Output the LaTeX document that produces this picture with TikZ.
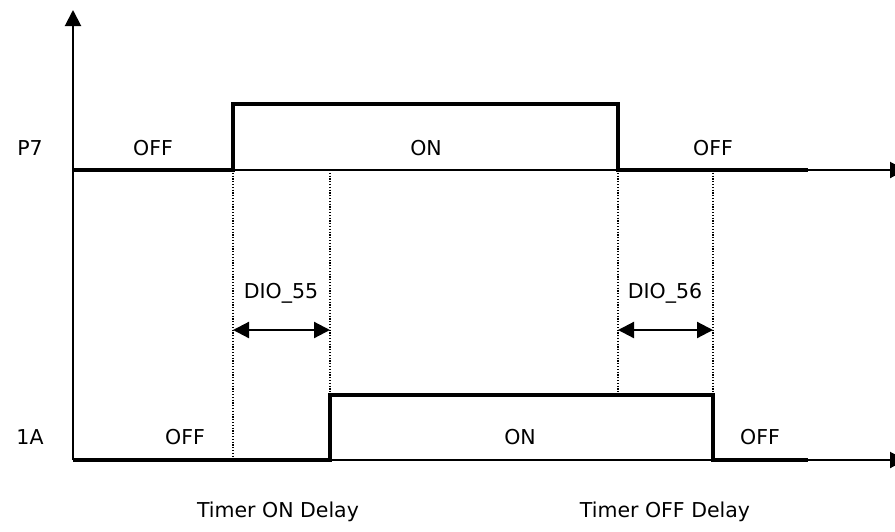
\documentclass[tikz,border=0pt]{standalone}
\usepackage{fontspec}
\setmainfont{DejaVu Sans}
\usetikzlibrary{arrows.meta}

\begin{document}
\begin{tikzpicture}[x=1pt, y=-1pt,
                    axis/.style={line width=2pt},
                    signal/.style={line width=3.6pt},
                    guide/.style={line width=1.2pt, dash pattern=on 1.2pt off 1.6pt},
                    span/.style={line width=2.2pt,
                      {Triangle[length=16pt,width=16pt]}-{Triangle[length=16pt,width=16pt]}},
                    lbl/.style={font=\fontsize{20.5}{24}\selectfont, inner sep=0pt}]
  \useasboundingbox (0,0) rectangle (895,531);

  % axes
  \coordinate (o) at (73,460);
  \coordinate (ytop) at (73,10);
  \coordinate (p7) at (73,170);
  \coordinate (p7end) at (906,170);
  \coordinate (aend) at (906,460);
  \draw[axis, -{Triangle[length=16pt,width=16pt]}] (o) -- (ytop);
  \draw[axis, -{Triangle[length=16pt,width=16pt]}] (p7) -- (p7end);
  \draw[axis, -{Triangle[length=16pt,width=16pt]}] (o) -- (aend);

  % P7 signal
  \coordinate (p7on) at (233,170);
  \coordinate (p7onhi) at (233,104);
  \coordinate (p7offhi) at (618,104);
  \coordinate (p7off) at (618,170);
  \coordinate (p7stop) at (808,170);
  \draw[signal] (p7) -- (p7on) -- (p7onhi) -- (p7offhi) -- (p7off) -- (p7stop);

  % 1A signal
  \coordinate (aon) at (330,460);
  \coordinate (aonhi) at (330,395);
  \coordinate (aoffhi) at (713,395);
  \coordinate (aoff) at (713,460);
  \coordinate (astop) at (808,460);
  \draw[signal] (o) -- (aon) -- (aonhi) -- (aoffhi) -- (aoff) -- (astop);

  % delay guides
  \coordinate (onmark) at (233,460);
  \coordinate (aonup) at (330,170);
  \coordinate (aoffup) at (713,170);
  \draw[guide] (p7on) -- (onmark);
  \draw[guide] (aonup) -- (aonhi);
  \draw[guide] (p7off) -- (p7offhi |- aonhi);
  \draw[guide] (aoffup) -- (aoffhi);

  \coordinate (d55a) at (233,330);
  \coordinate (d55b) at (330,330);
  \coordinate (d56a) at (618,330);
  \coordinate (d56b) at (713,330);
  \draw[span] (d55a) -- (d55b);
  \draw[span] (d56a) -- (d56b);

  % labels
  \node[lbl] (p7lbl) at (30,148) {P7};
  \node[lbl] (p7off1) at (153,148) {OFF};
  \node[lbl] (p7onlbl) at (426,148) {ON};
  \node[lbl] (p7off2) at (713,148) {OFF};
  \node[lbl] (alabel) at (30,437) {1A};
  \node[lbl] (aoff1) at (185,437) {OFF};
  \node[lbl] (aonlbl) at (520,437) {ON};
  \node[lbl] (aoff2) at (760,437) {OFF};
  \node[lbl] (dio55) at (281,293) {DIO\_55};
  \node[lbl] (dio56) at (665,293) {DIO\_56};
  \node[lbl] (tonlbl) at (278,512) {Timer ON Delay};
  \node[lbl] (tofflbl) at (665,512) {Timer OFF Delay};
\end{tikzpicture}
\end{document}
